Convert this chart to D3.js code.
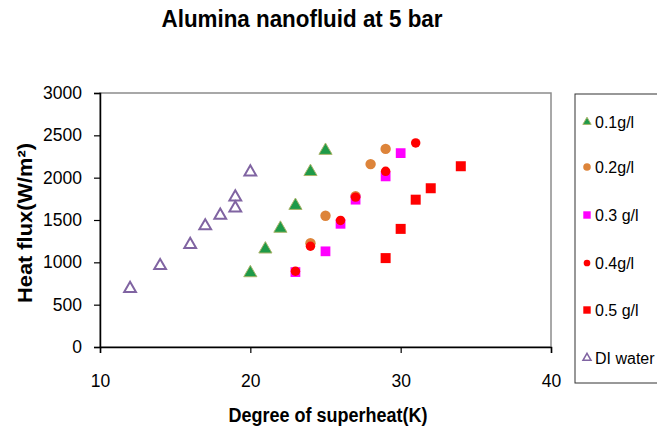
<!DOCTYPE html>
<html>
<head>
<meta charset="utf-8">
<script src="https://cdn.jsdelivr.net/npm/d3@7/dist/d3.min.js"></script>
<style>
  html, body { margin: 0; padding: 0; background: #fff; }
  svg { display: block; font-family: "Liberation Sans", Arial, sans-serif; }
</style>
</head>
<body>
<svg id="chart" width="657" height="442"></svg>
<script>
// Superheat (K) and heat flux (W/m²) for each concentration
const superheat01 = [20, 21, 22, 23, 24, 25];
const flux01      = [875, 1155, 1400, 1670, 2070, 2320];

const superheat02 = [24, 25, 27, 28, 29];
const flux02      = [1225, 1550, 1780, 2160, 2340];

const superheat03 = [23, 25, 26, 27, 29, 30];
const flux03      = [885, 1130, 1455, 1740, 2015, 2290];

const superheat04 = [23, 24, 26, 27, 29, 31];
const flux04      = [895, 1190, 1495, 1770, 2075, 2410];

const superheat05 = [29, 30, 31, 32, 34];
const flux05      = [1050, 1395, 1740, 1875, 2135];

const superheatDI = [12, 14, 16, 17, 18, 19, 19, 20];
const fluxDI      = [690, 960, 1210, 1430, 1555, 1640, 1770, 2065];

const xTicks = [10, 20, 30, 40];
const yTicks = [0, 500, 1000, 1500, 2000, 2500, 3000];
const seriesNames = ["0.1g/l", "0.2g/l", "0.3 g/l", "0.4g/l", "0.5 g/l", "DI water"];

const svg = d3.select("#chart");
const plot = { left: 100, right: 551, top: 93, bottom: 347 };

const x = d3.scaleLinear().domain([10, 40]).range([plot.left, plot.right]);
const y = d3.scaleLinear().domain([0, 3000]).range([plot.bottom, plot.top]);

// Plot area frame (top and right in grey)
svg.append("rect")
  .attr("x", plot.left).attr("y", plot.top)
  .attr("width", plot.right - plot.left).attr("height", plot.bottom - plot.top)
  .attr("fill", "none").attr("stroke", "#8c8c8c").attr("stroke-width", 1.5);

// Axes
const xAxis = svg.append("g")
  .attr("transform", `translate(0,${plot.bottom})`)
  .call(d3.axisBottom(x).tickValues(xTicks).tickSize(6).tickPadding(23).tickFormat(d3.format("d")));
const yAxis = svg.append("g")
  .attr("transform", `translate(${plot.left},0)`)
  .call(d3.axisLeft(y).tickValues(yTicks).tickSize(6).tickPadding(12).tickFormat(d3.format("d")));

[xAxis, yAxis].forEach(g => {
  g.select(".domain").attr("stroke", "#000").attr("stroke-width", 1.5);
  g.selectAll(".tick line").attr("stroke", "#000").attr("stroke-width", 1.2);
  g.selectAll(".tick text")
    .attr("fill", "#000")
    .style("font-size", "17.5px")
    .style("font-family", "'Liberation Sans', Arial, sans-serif");
});
xAxis.selectAll(".tick text").attr("dy", "0").attr("y", 40);

// Titles (narrow, condensed lettering)
svg.append("text")
  .attr("x", 302).attr("y", 27)
  .attr("text-anchor", "middle")
  .attr("textLength", 281).attr("lengthAdjust", "spacingAndGlyphs")
  .style("font-size", "24px").style("font-weight", "bold")
  .text("Alumina nanofluid at 5 bar");

svg.append("text")
  .attr("x", 328).attr("y", 422)
  .attr("text-anchor", "middle")
  .attr("textLength", 199).attr("lengthAdjust", "spacingAndGlyphs")
  .style("font-size", "20px").style("font-weight", "bold")
  .text("Degree of superheat(K)");

svg.append("text")
  .attr("transform", "translate(31.5,223) rotate(-90)")
  .attr("text-anchor", "middle")
  .attr("textLength", 160).attr("lengthAdjust", "spacingAndGlyphs")
  .style("font-size", "20px").style("font-weight", "bold")
  .text("Heat flux(W/m²)");

// Marker styles per series
const styles = [
  { shape: d3.symbolTriangle, size: 75, fill: "#1e9a48", stroke: "#a8b46a", sw: 1 },
  { shape: d3.symbolCircle,   size: 85, fill: "#dd843a", stroke: "none",    sw: 0 },
  { shape: d3.symbolSquare,   size: 95, fill: "#ff00ff", stroke: "none",    sw: 0 },
  { shape: d3.symbolCircle,   size: 70, fill: "#ff0000", stroke: "none",    sw: 0 },
  { shape: d3.symbolSquare,   size: 100, fill: "#ff0000", stroke: "none",   sw: 0 },
  { shape: d3.symbolTriangle, size: 60, fill: "none",    stroke: "#8064a2", sw: 2 }
];

const series = [
  [superheat01, flux01],
  [superheat02, flux02],
  [superheat03, flux03],
  [superheat04, flux04],
  [superheat05, flux05],
  [superheatDI, fluxDI]
];

series.forEach(([xs, ys], i) => {
  const st = styles[i];
  const pts = xs.map((v, k) => ({ x: v, y: ys[k] }));
  svg.append("g").selectAll("path")
    .data(pts).join("path")
    .attr("d", d3.symbol().type(st.shape).size(st.size))
    .attr("transform", d => `translate(${x(d.x)},${y(d.y)})`)
    .attr("fill", st.fill)
    .attr("stroke", st.stroke)
    .attr("stroke-width", st.sw);
});

// Legend
const legend = svg.append("g");
legend.append("rect")
  .attr("x", 575).attr("y", 94)
  .attr("width", 100).attr("height", 289)
  .attr("fill", "#fff").attr("stroke", "#333").attr("stroke-width", 1);

const legendY = [122, 167, 215, 263, 310, 358];
const legendSizes = [30, 45, 55, 35, 55, 28];
seriesNames.forEach((name, i) => {
  const st = styles[i];
  legend.append("path")
    .attr("d", d3.symbol().type(st.shape).size(legendSizes[i]))
    .attr("transform", `translate(587,${legendY[i]})`)
    .attr("fill", st.fill)
    .attr("stroke", st.stroke)
    .attr("stroke-width", i === 5 ? 1.5 : st.sw);
  legend.append("text")
    .attr("x", 595).attr("y", legendY[i] + 6)
    .style("font-size", "16px")
    .text(name);
});
</script>
</body>
</html>
